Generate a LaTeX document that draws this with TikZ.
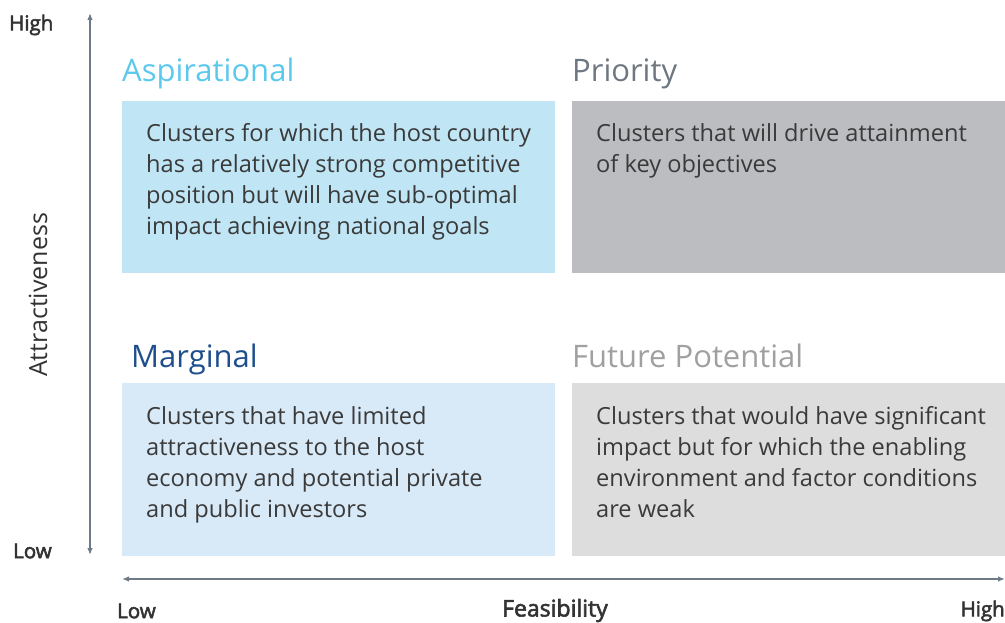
\documentclass[tikz,border=0pt]{standalone}
\usepackage{fontspec}
\setmainfont{Open Sans}
\newfontfamily\semib{Open Sans}[FakeBold=2.5]
\usetikzlibrary{arrows.meta}
\definecolor{axisc}{HTML}{6E7B87}
\definecolor{txtc}{HTML}{3A3A3A}
\definecolor{labc}{HTML}{333333}
\definecolor{aspfill}{HTML}{C0E6F6}
\definecolor{prifill}{HTML}{BCBDC0}
\definecolor{marfill}{HTML}{D8E9F7}
\definecolor{futfill}{HTML}{DDDDDD}
\definecolor{aspt}{HTML}{5BC8EE}
\definecolor{prit}{HTML}{6E7780}
\definecolor{mart}{HTML}{1F4E8C}
\definecolor{futt}{HTML}{A0A0A0}
\tikzset{
  quad/.style={rectangle, draw=none, minimum width=433pt, minimum height=172pt, anchor=north west, inner sep=0pt},
  qtitle/.style={anchor=base west, inner sep=0pt, font=\fontsize{31}{33}\selectfont},
  qbody/.style={anchor=north west, inner sep=0pt, align=left, text=txtc, font=\fontsize{23.6}{31}\selectfont},
  axlab/.style={inner sep=0pt, text=labc, font=\semib\fontsize{20.5}{24}\selectfont},
  axis/.style={draw=axisc, line width=1.3pt, {Latex[length=7pt,width=5.5pt]}-{Latex[length=7pt,width=5.5pt]}},
}
\begin{document}
\begin{tikzpicture}[x=1pt, y=-1pt]
\useasboundingbox (0,0) rectangle (1005,623);
% quadrants
\node[quad, fill=aspfill] (asp) at (122,101) {};
\node[quad, fill=prifill] (pri) at (572,101) {};
\node[quad, fill=marfill, minimum height=173pt] (mar) at (122,383) {};
\node[quad, fill=futfill, minimum height=173pt] (fut) at (572,383) {};
% titles
\node[qtitle, text=aspt] (aspT) at (122,82) {Aspirational};
\node[qtitle, text=prit] (priT) at (572,82) {Priority};
\node[qtitle, text=mart] (marT) at (131,367) {Marginal};
\node[qtitle, text=futt] (futT) at (572,367) {Future Potential};
% bodies
\node[qbody] (aspB) at (146,123) {Clusters for which the host country\\has a relatively strong competitive\\position but will have sub-optimal\\impact achieving national goals};
\node[qbody] (priB) at (596,123) {Clusters that will drive attainment\\of key objectives};
\node[qbody] (marB) at (146,406) {Clusters that have limited\\attractiveness to the host\\economy and potential private\\and public investors};
\node[qbody] (futB) at (596,406) {Clusters that would have significant\\impact but for which the enabling\\environment and factor conditions\\are weak};
% axes
\coordinate (vtop) at (90,13);
\coordinate (vbot) at (90,555);
\coordinate (hl) at (122,579);
\coordinate (hr) at (1005,579);
\draw[axis] (vbot) -- (vtop);
\draw[axis] (hl) -- (hr);
% axis labels
\node[axlab, anchor=west] (hiY) at (9,25) {High};
\node[axlab, anchor=west] (loY) at (13,551) {Low};
\node[axlab, rotate=90, font=\fontsize{25}{28}\selectfont] (attr) at (38,295) {Attractiveness};
\node[axlab, anchor=west] (loX) at (117,611) {Low};
\node[axlab, anchor=base, font=\semib\fontsize{23}{26}\selectfont] (feas) at (555,616.5) {Feasibility};
\node[axlab, anchor=east] (hiX) at (1005,611) {High};
\end{tikzpicture}
\end{document}
